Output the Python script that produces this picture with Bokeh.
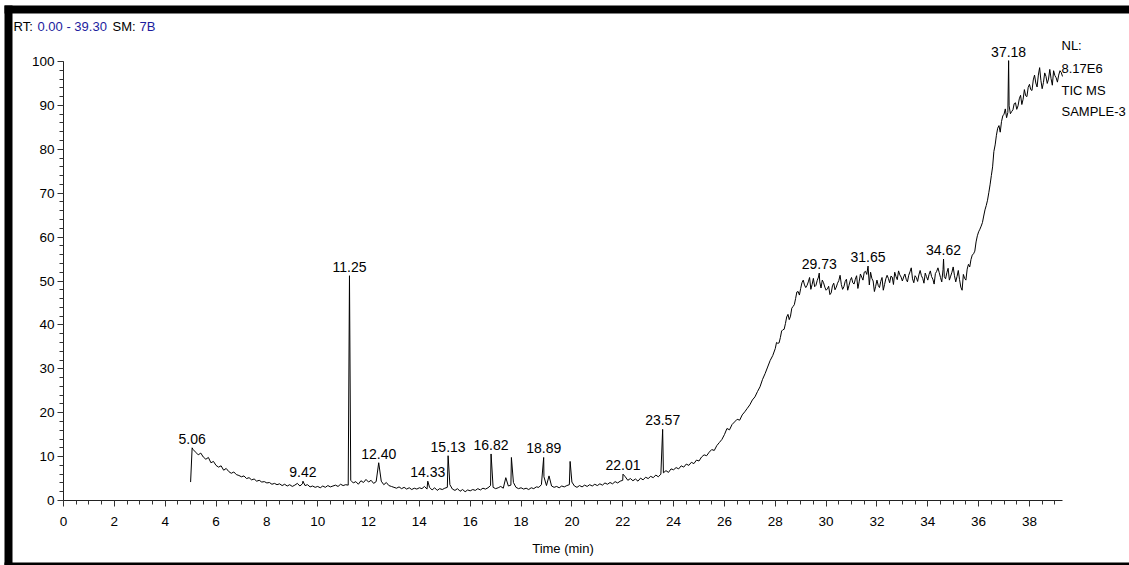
from bokeh.plotting import figure
from bokeh.models import Range1d, SingleIntervalTicker, Label, ColumnDataSource, BoxAnnotation
from bokeh.embed import file_html
from bokeh.resources import INLINE

# ---------------- data ----------------
rt_start = 5.0
rt_step = 0.1
# TIC intensity (% of NL) sampled every 0.1 min from 5.0 to 39.3 min
tic_5_6 = [4.2, 11.6, 11.0, 10.4, 10.8, 9.9, 9.4, 9.8, 8.6, 8.9, 8.0]
tic_6_12 = [7.6, 7.9, 6.9, 7.3, 6.6, 6.2, 6.5, 5.9, 5.7, 5.4,
            5.6, 5.0, 5.2, 4.7, 4.9, 4.4, 4.6, 4.2, 4.3, 4.0,
            4.1, 3.7, 3.9, 3.6, 3.8, 3.4, 3.7, 3.3, 3.6, 3.2,
            3.5, 3.9, 3.3, 3.8, 3.4, 3.6, 3.1, 3.3, 3.0, 3.2,
            2.9, 3.3, 3.0, 3.4, 3.1, 3.3, 3.5, 3.2, 3.7, 3.4,
            3.6, 3.5, 4.6, 4.0, 4.3, 3.7, 4.5, 4.1, 4.8, 4.2]
tic_12_18 = [4.6, 3.9, 4.3, 3.8, 4.4, 3.6, 4.1, 3.4, 3.2, 3.0,
             2.8, 3.1, 2.7, 3.0, 2.6, 2.9, 2.5, 2.8, 2.6, 2.9,
             2.7, 3.2, 2.6, 3.0, 2.4, 2.9, 2.3, 2.7, 2.5, 2.8,
             3.0, 3.6, 2.6, 2.3, 2.7, 2.1, 2.5, 2.0, 2.4, 2.2,
             2.5, 2.3, 2.7, 2.4, 2.8, 2.6, 2.9, 3.4, 3.0, 2.7,
             2.9, 3.2, 2.8, 5.2, 3.3, 3.5, 4.1, 3.0, 2.7, 2.9]
tic_18_24 = [2.6, 2.8, 2.5, 2.9, 2.7, 3.1, 3.0, 3.6, 5.4, 3.4,
             5.6, 3.3, 3.0, 3.2, 2.9, 3.3, 3.1, 3.4, 3.6, 4.2,
             3.3, 3.0, 3.4, 3.1, 3.5, 3.2, 3.6, 3.3, 3.7, 3.4,
             3.8, 3.5, 4.0, 3.7, 4.1, 3.8, 4.3, 4.0, 4.4, 4.6,
             5.4, 4.6, 5.0, 4.5, 4.9, 4.4, 5.1, 4.7, 5.3, 5.0,
             5.5, 5.2, 5.8, 5.4, 6.0, 6.3, 6.8, 6.4, 7.2, 7.0]
tic_24_30 = [7.5, 7.2, 7.9, 7.6, 8.3, 8.0, 8.7, 8.4, 9.2, 9.0,
             9.9, 10.4, 10.2, 11.0, 11.6, 11.4, 12.5, 13.2, 13.9, 15.0,
             16.4, 16.1, 17.3, 17.9, 18.5, 18.3, 19.5, 20.2, 21.0, 21.8,
             22.9, 23.6, 24.8, 25.9, 27.6, 28.9, 30.4, 31.9, 33.0, 34.6,
             35.8, 37.1, 38.9, 40.3, 42.4, 42.0, 44.2, 46.0, 47.6, 48.3,
             50.2, 48.5, 49.8, 48.1, 50.6, 49.0, 50.9, 48.4, 49.6, 47.9]
tic_30_36 = [48.8, 47.3, 49.5, 48.6, 50.1, 49.2, 48.7, 50.4, 49.0, 50.8,
             49.3, 51.2, 49.8, 50.9, 52.0, 51.5, 49.1, 50.6, 47.6, 50.2,
             48.5, 50.8, 49.2, 51.3, 49.6, 50.9, 52.0, 50.3, 51.4, 50.0,
             51.6, 49.8, 52.1, 50.5, 51.2, 49.9, 52.4, 50.6, 51.8, 50.2,
             52.3, 50.4, 51.7, 53.0, 50.8, 52.6, 50.5, 52.9, 51.1, 53.2,
             49.8, 52.4, 48.6, 51.5, 50.2, 53.8, 54.9, 56.2, 58.9, 61.2]
tic_36_393 = [62.5, 64.8, 67.2, 70.1, 74.0, 79.5, 83.2, 85.4, 86.3, 88.0,
              87.2, 89.9, 88.6, 90.4, 89.1, 91.5, 90.2, 93.6, 92.0, 94.8,
              93.4, 96.9, 94.2, 98.6, 93.8, 97.4, 95.0, 98.2, 94.6, 96.8,
              95.3, 97.9, 96.6]

# extra in-between scans (28.05 ... 39.25 min) where the signal is noisiest
half_start = 28.05
tic_half = [36.0, 35.9, 38.6, 39.0, 41.8, 41.2, 43.8, 44.6, 47.5, 46.8,
            49.6, 49.1, 49.0, 50.8, 49.2, 48.7, 50.1, 49.8, 50.2, 48.6,
            48.2, 46.9, 48.9, 48.0, 49.5, 51.3, 48.1, 49.9, 47.9, 50.1,
            49.6, 50.4, 48.3, 51.6, 50.2, 52.2, 52.0, 52.0, 50.0, 48.8,
            49.0, 49.9, 47.9, 50.5, 50.6, 51.1, 49.2, 51.0, 52.3, 50.9,
            50.9, 50.4, 51.3, 53.0, 49.6, 50.8, 51.4, 51.2, 49.5, 51.0,
            51.5, 51.0, 49.3, 52.2, 51.9, 49.8, 51.0, 51.9, 50.2, 52.0,
            51.2, 51.0, 50.3, 47.9, 50.6, 52.7, 53.2, 55.9, 56.8, 60.3,
            61.8, 63.3, 66.2, 68.4, 71.9, 76.0, 81.0, 84.8, 83.9, 87.6,
            89.2, 88.4, 88.1, 89.0, 90.6, 89.9, 92.3, 91.4, 92.2, 94.1,
            93.6, 95.8, 95.1, 96.9, 95.7, 95.2, 96.6, 96.0, 96.1, 97.9,
            96.3, 96.9, 97.5]

# apex of resolved peaks (RT in min, relative abundance)
peak_rt = [5.06, 9.42, 11.25, 12.40, 14.33, 15.13, 16.82, 17.62, 18.89,
           19.93, 22.01, 23.57, 29.73, 31.65, 34.62, 37.18]
peak_height = [12.0, 4.4, 51.2, 8.6, 4.4, 10.2, 10.6, 9.8, 9.8,
               8.9, 6.0, 16.2, 51.8, 53.4, 55.0, 100.2]
peak_labelled = [True, True, True, True, True, True, True, False, True,
                 False, True, True, True, True, True, True]

x_tick_step = 2
y_tick_step = 10
rt_range = (0.0, 39.30)
rel_range = (0, 100)
header_parts = ["RT:", "0.00 - 39.30", "SM:", "7B"]
info_lines = ["NL:", "8.17E6", "TIC  MS", "SAMPLE-3"]

# --------------- build trace ---------------
tic = tic_5_6 + tic_6_12 + tic_12_18 + tic_18_24 + tic_24_30 + tic_30_36 + tic_36_393
pts = {}
for i, v in enumerate(tic):
    pts[round(rt_start + i * rt_step, 2)] = v
for i, v in enumerate(tic_half):
    pts[round(half_start + i * rt_step, 2)] = v
for rt, h in zip(peak_rt, peak_height):
    pts[round(rt, 2)] = h
xs = sorted(pts)
ys = [pts[x] for x in xs]

# --------------- layout (pixel geometry) ---------------
W, H = 1129, 565
X0, PXX = 63.0, 25.42     # pixel of RT=0, pixels per minute
Y0, PXY = 500.0, 4.39     # pixel of 0 %, pixels per %


def px2x(px):
    return (px - X0) / PXX


def py2y(py):
    return (Y0 - py) / PXY


FONT = "Liberation Sans"

p = figure(width=W, height=H, output_backend="svg", toolbar_location=None,
           x_range=Range1d(px2x(0), px2x(W)), y_range=Range1d(py2y(H), py2y(0)),
           min_border=0, min_border_left=0, min_border_right=0,
           min_border_top=0, min_border_bottom=0)
p.outline_line_color = None
p.grid.visible = False

# image frame (black bars at left, top and bottom)
for l, r, t, b in ((4, 12, 5, H + 20), (4, W + 20, 5, 13), (4, W + 20, 562, H + 20)):
    p.add_layout(BoxAnnotation(left=px2x(l), right=px2x(r), top=py2y(t), bottom=py2y(b),
                               fill_color="black", fill_alpha=1.0, line_color=None,
                               line_alpha=0.0))

p.line(xs, ys, line_color="black", line_width=1)

src = ColumnDataSource(dict(
    x=[r for r, l in zip(peak_rt, peak_labelled) if l],
    y=[h for h, l in zip(peak_height, peak_labelled) if l],
    t=["%.2f" % r for r, l in zip(peak_rt, peak_labelled) if l]))
p.text(x="x", y="y", text="t", source=src, text_align="center",
       text_baseline="bottom", text_font={"value": FONT}, text_font_size="14px",
       text_color="black", y_offset=-4)

for ax, step, nminor, bnd in ((p.xaxis[0], x_tick_step, 4, rt_range),
                              (p.yaxis[0], y_tick_step, 5, rel_range)):
    ax.fixed_location = 0
    ax.bounds = bnd
    ax.ticker = SingleIntervalTicker(interval=step, num_minor_ticks=nminor)
    ax.axis_line_color = "#222222"
    ax.major_tick_line_color = "#333333"
    ax.minor_tick_line_color = "#333333"
    ax.major_tick_out = 6
    ax.major_tick_in = 0
    ax.minor_tick_out = 4
    ax.minor_tick_in = 0
    ax.major_label_text_font = FONT
    ax.major_label_text_font_size = "13.5px"
    ax.major_label_text_color = "black"

p.xaxis.axis_label = "Time (min)"
p.xaxis.axis_label_text_font = FONT
p.xaxis.axis_label_text_font_size = "13px"
p.xaxis.axis_label_text_font_style = "normal"
p.xaxis.axis_label_text_color = "black"
p.xaxis.major_label_standoff = 10
p.xaxis.axis_label_standoff = 12
p.yaxis.major_label_standoff = 3

# header line
hdr_px = [13, 37, 112, 139]
hdr_col = ["black", "#1c1c9e", "black", "#1c1c9e"]
for txt, xp, c in zip(header_parts, hdr_px, hdr_col):
    p.add_layout(Label(x=px2x(xp), y=py2y(26), text=txt, text_font=FONT,
                       text_font_size="13px", text_color=c, text_baseline="middle"))

# normalisation / trace info at the right
info_py = [45, 68, 90, 111]
for txt, yp in zip(info_lines, info_py):
    p.add_layout(Label(x=px2x(1061), y=py2y(yp), text=txt, text_font=FONT,
                       text_font_size="13px", text_color="black", text_baseline="middle"))

open("out.html", "w").write(file_html(p, INLINE))
